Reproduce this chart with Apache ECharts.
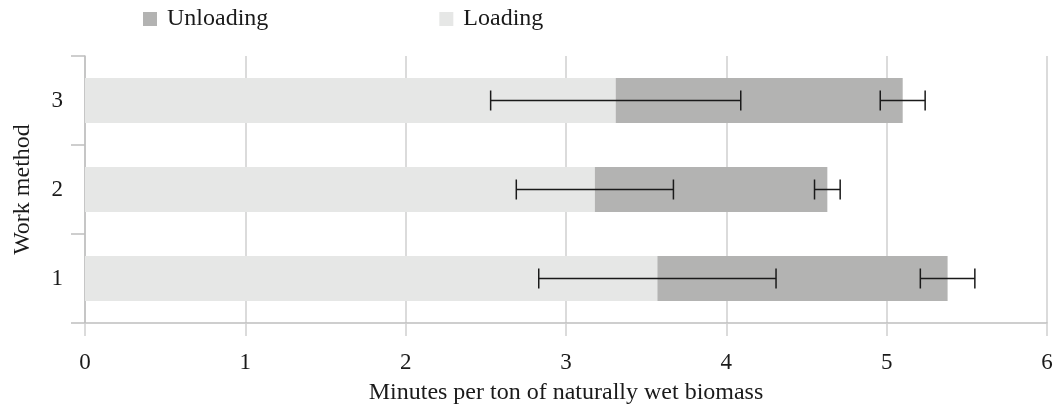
<!DOCTYPE html>
<html>
<head>
<meta charset="utf-8">
<script src="https://cdn.jsdelivr.net/npm/echarts@6/dist/echarts.min.js"></script>
<style>
  html, body { margin: 0; padding: 0; background: #fff; }
  #chart { width: 1055px; height: 405px; }
</style>
</head>
<body>
<div id="chart"></div>
<script>
// work methods (bottom to top)
const methods = ['1', '2', '3'];
const loading = [3.57, 3.18, 3.31];
const unloading = [1.81, 1.45, 1.79];
// standard deviations
const loadingErr = [0.74, 0.49, 0.78];
const unloadingErr = [0.17, 0.08, 0.14];

const font = 'Liberation Serif';
const axisGray = '#bfbfbf';
const textColor = '#1a1a1a';

// error bar data: [center, category index, error]
const errData = [];
methods.forEach((m, i) => {
  errData.push([loading[i], i, loadingErr[i]]);
  errData.push([loading[i] + unloading[i], i, unloadingErr[i]]);
});

function renderErr(params, api) {
  const c = api.value(0), idx = api.value(1), e = api.value(2);
  const lo = api.coord([c - e, idx]);
  const hi = api.coord([c + e, idx]);
  const h = 10;
  const style = { stroke: '#1a1a1a', lineWidth: 1.5 };
  return {
    type: 'group',
    children: [
      { type: 'line', shape: { x1: lo[0], y1: lo[1], x2: hi[0], y2: hi[1] }, style },
      { type: 'line', shape: { x1: lo[0], y1: lo[1] - h, x2: lo[0], y2: lo[1] + h }, style },
      { type: 'line', shape: { x1: hi[0], y1: hi[1] - h, x2: hi[0], y2: hi[1] + h }, style }
    ]
  };
}

const chart = echarts.init(document.getElementById('chart'));
chart.setOption({
  animation: false,
  textStyle: { fontFamily: font },
  legend: {
    data: ['Unloading', 'Loading'],
    left: 138,
    top: 2,
    icon: 'rect',
    itemWidth: 14,
    itemHeight: 14,
    itemGap: 171,
    textStyle: { fontFamily: font, fontSize: 24, color: textColor, padding: [0, 0, 0, 5] }
  },
  grid: { left: 85, right: 8, top: 56, bottom: 82, containLabel: false, outerBoundsMode: 'none' },
  xAxis: {
    type: 'value',
    min: 0,
    max: 6,
    interval: 1,
    name: 'Minutes per ton of naturally wet biomass',
    nameLocation: 'middle',
    nameGap: 58,
    nameTextStyle: { fontFamily: font, fontSize: 24, color: textColor },
    axisLine: { show: true, lineStyle: { color: axisGray, width: 1.5 } },
    axisTick: { show: true, length: 13, lineStyle: { color: '#cfcfcf', width: 1.5 } },
    axisLabel: { margin: 28, fontFamily: font, fontSize: 23, color: textColor },
    splitLine: { show: true, lineStyle: { color: '#cfcfcf', width: 1.5 } }
  },
  yAxis: {
    type: 'category',
    data: methods,
    name: 'Work method',
    nameLocation: 'middle',
    nameGap: 50,
    nameTextStyle: { fontFamily: font, fontSize: 24, color: textColor },
    axisLine: { show: true, lineStyle: { color: axisGray, width: 1.5 } },
    axisTick: { show: true, length: 14, lineStyle: { color: axisGray, width: 1.5 } },
    axisLabel: { margin: 22, fontFamily: font, fontSize: 23, color: textColor }
  },
  series: [
    {
      name: 'Loading',
      type: 'bar',
      stack: 'total',
      barWidth: 45,
      itemStyle: { color: '#e6e7e6' },
      data: loading,
      z: 2
    },
    {
      name: 'Unloading',
      type: 'bar',
      stack: 'total',
      barWidth: 45,
      itemStyle: { color: '#b3b3b2' },
      data: unloading,
      z: 2
    },
    {
      name: 'err',
      type: 'custom',
      renderItem: renderErr,
      encode: { x: 0, y: 1 },
      data: errData,
      z: 5
    }
  ]
});
</script>
</body>
</html>
